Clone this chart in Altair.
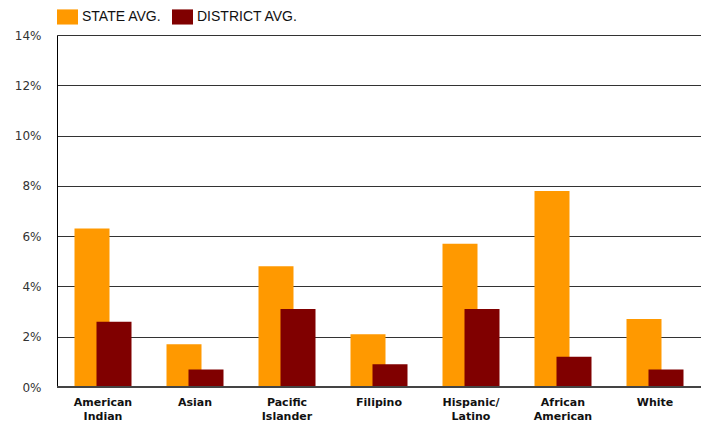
import altair as alt
import pandas as pd

categories = ["American Indian", "Asian", "Pacific Islander", "Filipino",
              "Hispanic/ Latino", "African American", "White"]
state_avg = [6.3, 1.7, 4.8, 2.1, 5.7, 7.8, 2.7]
district_avg = [2.6, 0.7, 3.1, 0.9, 3.1, 1.2, 0.7]
series = ["STATE AVG.", "DISTRICT AVG."]
y_ticks = [0, 2, 4, 6, 8, 10, 12, 14]

df = pd.DataFrame({
    "group": categories * 2,
    "series": [series[0]] * len(categories) + [series[1]] * len(categories),
    "value": state_avg + district_avg,
})

color = alt.Color(
    "series:N",
    scale=alt.Scale(domain=series, range=["#FF9900", "#800000"]),
    legend=alt.Legend(
        title=None, orient="none", legendX=0, legendY=-29, direction="horizontal",
        symbolType="M-1,-0.72H1V0.72H-1Z", symbolSize=441, symbolStrokeWidth=0,
        symbolOpacity=1,
        labelFont="Liberation Sans", labelFontSize=14, labelColor="#111",
        labelOffset=4, columnPadding=10, padding=0,
    ),
)

x = alt.X(
    "group:N", sort=categories, title=None,
    scale=alt.Scale(paddingInner=0, paddingOuter=0),
    axis=alt.Axis(
        labelAngle=0, ticks=False, domain=False,
        labelFont="DejaVu Sans", labelFontWeight="bold", labelFontSize=11,
        labelColor="#111", labelPadding=9, labelLineHeight=14,
        labelExpr="split(datum.value, ' ')",
    ),
)
y = alt.Y(
    "value:Q", title=None,
    scale=alt.Scale(domain=[0, 14], nice=False),
    axis=alt.Axis(
        values=y_ticks, labelExpr="datum.value + '%'", ticks=False,
        domainColor="#000", domainWidth=1,
        gridColor="#333", gridWidth=1, gridOpacity=1,
        labelFont="DejaVu Sans", labelFontSize=12, labelColor="#333",
        labelPadding=16,
    ),
)

base = alt.Chart(df).encode(x=x, y=y, color=color)
state = base.mark_bar(width=35, xOffset=-11).transform_filter(
    alt.datum.series == series[0])
district = base.mark_bar(width=35, xOffset=11).transform_filter(
    alt.datum.series == series[1])

bottom = alt.Chart(pd.DataFrame({"v": [0]})).mark_rule(
    color="#444", strokeWidth=2).encode(y=alt.Y("v:Q", scale=alt.Scale(domain=[0, 14])))

chart = alt.layer(state, district, bottom).properties(
    width=644, height=352,
    autosize=alt.AutoSizeParams(type="none"),
    padding={"left": 49, "top": 27, "right": 0, "bottom": 36},
).configure_view(stroke="#666", strokeWidth=1.5).configure(background="white")

chart.save("out.html", embed_options={"renderer": "svg", "actions": False})
